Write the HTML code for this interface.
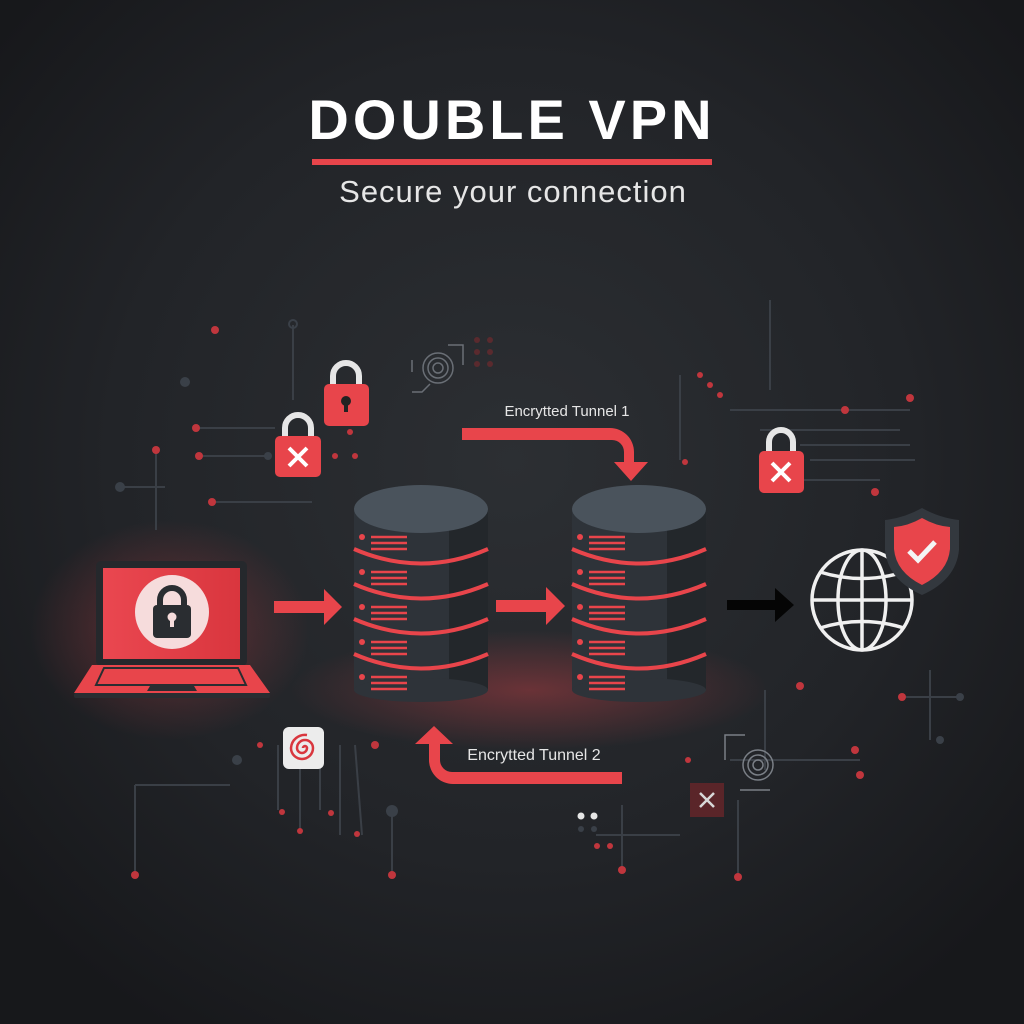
<!DOCTYPE html>
<html><head><meta charset="utf-8"><style>
html,body{margin:0;padding:0;background:#1c1e21;}
svg{display:block;}
text{font-family:"Liberation Sans",sans-serif;}
</style></head><body>
<svg width="1024" height="1024" viewBox="0 0 1024 1024" xmlns="http://www.w3.org/2000/svg">
<defs>
<radialGradient id="bg" cx="50%" cy="45%" r="65%">
<stop offset="0" stop-color="#2c2f33"/><stop offset="0.6" stop-color="#222428"/><stop offset="1" stop-color="#17181b"/>
</radialGradient>
<radialGradient id="glow" cx="50%" cy="50%" r="50%">
<stop offset="0" stop-color="#e8454b" stop-opacity="0.35"/><stop offset="1" stop-color="#e8454b" stop-opacity="0"/>
</radialGradient>
<linearGradient id="scr" x1="0" x2="1"><stop offset="0" stop-color="#ea4750"/><stop offset="1" stop-color="#d9363e"/></linearGradient>
</defs>
<rect width="1024" height="1024" fill="url(#bg)"/>

<!-- title -->
<text x="512" y="139" text-anchor="middle" font-size="56" font-weight="bold" fill="#fff" letter-spacing="4">DOUBLE VPN</text>
<rect x="312" y="159" width="400" height="6" fill="#e8454b"/>
<text x="513" y="202" text-anchor="middle" font-size="31" fill="#e6e6e6" letter-spacing="1">Secure your connection</text>

<!-- glows -->
<ellipse cx="170" cy="630" rx="140" ry="110" fill="url(#glow)"/>
<ellipse cx="530" cy="690" rx="240" ry="60" fill="url(#glow)"/>

<!-- circuit decorations -->
<g stroke="#3a3f46" stroke-width="2" fill="none">
<line x1="293" y1="325" x2="293" y2="400"/>
<line x1="196" y1="428" x2="275" y2="428"/>
<line x1="199" y1="456" x2="268" y2="456"/>
<line x1="120" y1="487" x2="165" y2="487"/>
<line x1="156" y1="448" x2="156" y2="530"/>
<line x1="212" y1="502" x2="312" y2="502"/>
<line x1="680" y1="375" x2="680" y2="460"/>
<line x1="730" y1="410" x2="910" y2="410"/>
<line x1="760" y1="430" x2="900" y2="430"/>
<line x1="800" y1="445" x2="910" y2="445"/>
<line x1="810" y1="460" x2="915" y2="460"/>
<line x1="800" y1="480" x2="880" y2="480"/>
<line x1="770" y1="300" x2="770" y2="390"/>
<line x1="135" y1="785" x2="230" y2="785"/>
<line x1="135" y1="785" x2="135" y2="875"/>
<line x1="392" y1="815" x2="392" y2="875"/>
<line x1="596" y1="835" x2="680" y2="835"/>
<line x1="622" y1="805" x2="622" y2="870"/>
<line x1="930" y1="670" x2="930" y2="740"/>
<line x1="905" y1="697" x2="960" y2="697"/>
<line x1="765" y1="690" x2="765" y2="770"/>
<line x1="730" y1="760" x2="860" y2="760"/>
<line x1="738" y1="800" x2="738" y2="875"/>
<line x1="278" y1="745" x2="278" y2="810"/>
<line x1="300" y1="760" x2="300" y2="830"/>
<line x1="320" y1="760" x2="320" y2="810"/>
<line x1="340" y1="745" x2="340" y2="835"/>
<line x1="355" y1="745" x2="362" y2="835"/>
</g>
<g fill="#c0363d">
<circle cx="215" cy="330" r="4"/><circle cx="196" cy="428" r="4"/><circle cx="199" cy="456" r="4"/>
<circle cx="156" cy="450" r="4"/><circle cx="212" cy="502" r="4"/>
<circle cx="700" cy="375" r="3"/><circle cx="710" cy="385" r="3"/><circle cx="720" cy="395" r="3"/>
<circle cx="845" cy="410" r="4"/><circle cx="910" cy="398" r="4"/><circle cx="875" cy="492" r="4"/>
<circle cx="685" cy="462" r="3"/><circle cx="800" cy="686" r="4"/><circle cx="902" cy="697" r="4"/>
<circle cx="855" cy="750" r="4"/><circle cx="860" cy="775" r="4"/><circle cx="135" cy="875" r="4"/>
<circle cx="392" cy="875" r="4"/><circle cx="622" cy="870" r="4"/><circle cx="738" cy="877" r="4"/>
<circle cx="375" cy="745" r="4"/><circle cx="260" cy="745" r="3"/><circle cx="282" cy="812" r="3"/>
<circle cx="300" cy="831" r="3"/><circle cx="331" cy="813" r="3"/><circle cx="357" cy="834" r="3"/>
<circle cx="350" cy="432" r="3"/><circle cx="335" cy="456" r="3"/><circle cx="355" cy="456" r="3"/>
<circle cx="597" cy="846" r="3"/><circle cx="610" cy="846" r="3"/><circle cx="688" cy="760" r="3"/>
</g>
<g fill="#3a4048">
<circle cx="185" cy="382" r="5"/><circle cx="120" cy="487" r="5"/><circle cx="268" cy="456" r="4"/>
<circle cx="392" cy="811" r="6"/><circle cx="940" cy="740" r="4"/><circle cx="960" cy="697" r="4"/>
<circle cx="237" cy="760" r="5"/><circle cx="581" cy="829" r="3"/><circle cx="594" cy="829" r="3"/>
</g>
<circle cx="581" cy="816" r="3.5" fill="#e6e6e6"/><circle cx="594" cy="816" r="3.5" fill="#e6e6e6"/>
<circle cx="293" cy="324" r="4" fill="none" stroke="#3a4048" stroke-width="2"/>
<g fill="#5a2a2e"><circle cx="477" cy="340" r="3"/><circle cx="490" cy="340" r="3"/><circle cx="477" cy="352" r="3"/><circle cx="490" cy="352" r="3"/><circle cx="477" cy="364" r="3"/><circle cx="490" cy="364" r="3"/></g>
<g fill="none" stroke="#6a6f76" stroke-width="1.5">
<path d="M412 372 v-12 M412 392 h10 l8 -8"/><path d="M448 345 h15 v20"/>
<circle cx="438" cy="368" r="5"/><circle cx="438" cy="368" r="10"/><circle cx="438" cy="368" r="15"/>
</g>
<g fill="none" stroke="#7a7f86" stroke-width="1.5">
<path d="M725 760 v-25 h20"/><circle cx="758" cy="765" r="5"/><circle cx="758" cy="765" r="10"/><circle cx="758" cy="765" r="15"/><path d="M740 790 h30"/>
</g>

<!-- locks -->
<g>
<path d="M333 390 v-14 a13 13 0 0 1 26 0 v14" fill="none" stroke="#e6e6e6" stroke-width="6"/>
<rect x="324" y="384" width="45" height="42" rx="5" fill="#e8454b"/>
<circle cx="346" cy="401" r="5" fill="#222"/><rect x="344" y="401" width="4" height="11" fill="#222"/>
</g>
<g>
<path d="M285 442 v-14 a13 13 0 0 1 26 0 v14" fill="none" stroke="#e6e6e6" stroke-width="6"/>
<rect x="275" y="436" width="46" height="41" rx="5" fill="#e8454b"/>
<path d="M289 448 l18 18 M307 448 l-18 18" stroke="#fff" stroke-width="4"/>
</g>
<g>
<path d="M769 456 v-14 a12 12 0 0 1 24 0 v14" fill="none" stroke="#e6e6e6" stroke-width="6"/>
<rect x="759" y="451" width="45" height="42" rx="5" fill="#e8454b"/>
<path d="M772 463 l18 18 M790 463 l-18 18" stroke="#fff" stroke-width="4"/>
</g>
<rect x="690" y="783" width="34" height="34" fill="#5a2529"/>
<path d="M700 793 l14 14 M714 793 l-14 14" stroke="#d8d8d8" stroke-width="2.5"/>
<rect x="283" y="727" width="41" height="42" rx="6" fill="#ececec"/>
<path d="M303 748 a2 2 0 0 1 4 0 a5 5 0 0 1 -10 0 a8 8 0 0 1 16 0 a11 11 0 0 1 -22 0 a14 14 0 0 1 16 -13" fill="none" stroke="#d9363e" stroke-width="2.5"/>

<!-- laptop -->
<rect x="96" y="561" width="151" height="105" rx="5" fill="#25282c"/>
<rect x="103" y="568" width="137" height="91" fill="url(#scr)"/>
<circle cx="172" cy="612" r="37" fill="#f6dcdc"/>
<path d="M160 608 v-8 a12 12 0 0 1 24 0 v8" fill="none" stroke="#2a2d31" stroke-width="6"/>
<rect x="153" y="605" width="38" height="33" rx="4" fill="#2a2d31"/>
<circle cx="172" cy="617" r="4.5" fill="#f6dcdc"/><rect x="170" y="617" width="4" height="10" fill="#f6dcdc"/>
<path d="M92 665 h158 l20 28 h-196 z" fill="#e8454b"/>
<path d="M104 668 h134 l8 17 h-150 z" fill="none" stroke="#2a2d31" stroke-width="2"/>
<path d="M150 686 h44 l3 5 h-50 z" fill="#2a2d31"/>
<rect x="74" y="693" width="196" height="5" rx="2" fill="#2a2d31"/>

<!-- arrows -->
<path d="M274 601 h50 v-12 l18 18 l-18 18 v-12 h-50 z" fill="#e8454b"/>
<path d="M496 600 h50 v-13 l19 19 l-19 19 v-13 h-50 z" fill="#e8454b"/>
<path d="M727 600 h48 v-12 l19 17 l-19 17 v-12 h-48 z" fill="#050505"/>

<!-- servers -->
<g id="s1">
<rect x="354" y="510" width="134" height="180" fill="#2e3339"/>
<rect x="449" y="510" width="39" height="180" fill="#23272b"/>
<ellipse cx="421" cy="690" rx="67" ry="12" fill="#2e3339"/>
<ellipse cx="421" cy="509" rx="67" ry="24" fill="#4a535c"/>
<g stroke="#e8454b" stroke-width="4" fill="none">
<path d="M354 549 Q421 578 488 549"/><path d="M354 584 Q421 613 488 584"/><path d="M354 619 Q421 648 488 619"/><path d="M354 654 Q421 683 488 654"/>
</g>
<g stroke="#e8454b" stroke-width="2.5">
<path d="M371 537 h36 M371 543 h36 M371 549 h36"/><path d="M371 572 h36 M371 578 h36 M371 584 h36"/>
<path d="M371 607 h36 M371 613 h36 M371 619 h36"/><path d="M371 642 h36 M371 648 h36 M371 654 h36"/>
<path d="M371 677 h36 M371 683 h36 M371 689 h36"/>
</g>
<g fill="#e8454b"><circle cx="362" cy="537" r="3"/><circle cx="362" cy="572" r="3"/><circle cx="362" cy="607" r="3"/><circle cx="362" cy="642" r="3"/><circle cx="362" cy="677" r="3"/></g>
</g>
<use href="#s1" x="218"/>

<!-- tunnel 1 -->
<text x="567" y="416" text-anchor="middle" font-size="15" fill="#e6e6e6">Encrytted Tunnel 1</text>
<path d="M462 428 h148 a24 24 0 0 1 24 24 v10 h14 l-17 19 l-17 -19 h10 v-10 a12 12 0 0 0 -12 -12 h-150 z" fill="#e8454b"/>
<!-- tunnel 2 -->
<text x="534" y="760" text-anchor="middle" font-size="16" fill="#e6e6e6">Encrytted Tunnel 2</text>
<path d="M622 772 h-170 a12 12 0 0 1 -12 -12 v-16 h13 l-19 -18 l-19 18 h14 v16 a24 24 0 0 0 24 24 h169 z" fill="#e8454b"/>

<!-- globe -->
<g fill="none" stroke="#f0f0f0" stroke-width="3.5">
<circle cx="862" cy="600" r="50"/>
<ellipse cx="862" cy="600" rx="24" ry="50"/>
<line x1="862" y1="550" x2="862" y2="650"/>
<line x1="812" y1="600" x2="912" y2="600"/>
<path d="M820 572 Q862 585 904 572"/><path d="M820 628 Q862 615 904 628"/>
</g>
<path d="M922 508 q18 10 37 12 v30 q-3 30 -37 45 q-34 -15 -37 -45 v-30 q19 -2 37 -12 z" fill="#33383e"/>
<path d="M922 518 q14 8 28 9 v22 q-2 23 -28 36 q-26 -13 -28 -36 v-22 q14 -1 28 -9 z" fill="#e8454b"/>
<path d="M909 551 l9 9 l17 -18" fill="none" stroke="#f4f4f4" stroke-width="5"/>
</svg>
</body></html>
